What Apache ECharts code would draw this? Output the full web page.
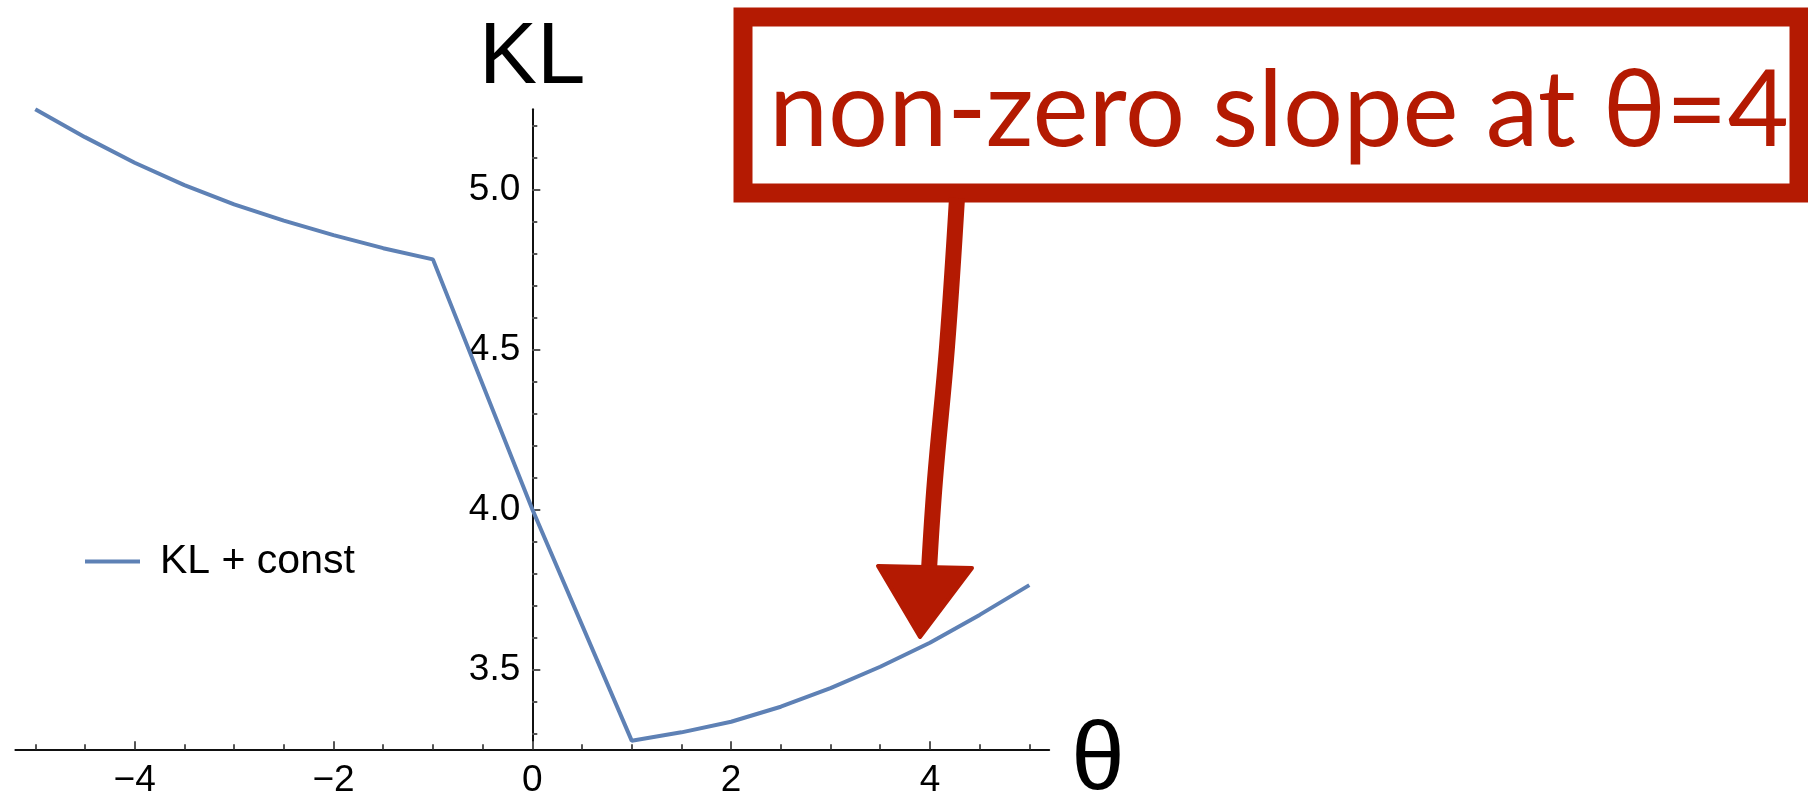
<!DOCTYPE html>
<html>
<head>
<meta charset="utf-8">
<script src="https://cdn.jsdelivr.net/npm/echarts@6/dist/echarts.min.js"></script>
<style>
  html, body { margin: 0; padding: 0; background: #fff; }
  #chart { width: 1808px; height: 803px; }
</style>
</head>
<body>
<div id="chart"></div>
<script>
// values
const thetaValues = [-5, -4.5, -4, -3.5, -3, -2.5, -2, -1.5, -1, 0, 1, 1.5, 2, 2.5, 3, 3.5, 4, 4.5, 5]
const klValues = [5.25, 5.163, 5.083, 5.013, 4.953, 4.902, 4.857, 4.816, 4.781, 4.0,
  3.277, 3.303, 3.336, 3.383, 3.441, 3.508, 3.583, 3.670, 3.763]
const seriesName = 'KL + const'

// ticks
const xMajorTicks = [-4, -2, 0, 2, 4]
const xMinorTicks = [-5, -4.5, -3.5, -3, -2.5, -1.5, -1, -0.5, 0.5, 1, 1.5, 2.5, 3, 3.5, 4.5, 5]
const yMajorTicks = [3.5, 4.0, 4.5, 5.0]
const yMinorTicks = [3.3, 3.4, 3.6, 3.7, 3.8, 3.9, 4.1, 4.2, 4.3, 4.4, 4.6, 4.7, 4.8, 4.9, 5.1, 5.2]

const noteText = 'non-zero slope at θ=4'

const axisFont = 'Liberation Sans, Arial, sans-serif'
const red = '#b41a02'
const axisColor = '#111'
const tickColor = '#555'

// plot box, theta = 0 sits at gridLeft + 5.2 units
const gridLeft = 15.4
const gridWidth = 1033.8
const yAxisShift = -(gridWidth / 10.4) * 5.2

const chart = echarts.init(document.getElementById('chart'))

const minorAxisX = {
  type: 'value', min: -5.2, max: 5.2, position: 'bottom',
  axisLine: { show: false, onZero: false },
  axisTick: { inside: true, length: 5, customValues: xMinorTicks, lineStyle: { color: tickColor, width: 2 } },
  axisLabel: { show: false },
  splitLine: { show: false }
}
const minorAxisY = {
  type: 'value', min: 3.25, max: 5.25, position: 'left', offset: yAxisShift,
  axisLine: { show: false, onZero: false },
  axisTick: { inside: true, length: 5, customValues: yMinorTicks, lineStyle: { color: tickColor, width: 2 } },
  axisLabel: { show: false },
  splitLine: { show: false }
}

const option = {
  animation: false,
  backgroundColor: '#fff',
  grid: { left: gridLeft, top: 109.3, width: gridWidth, height: 640, containLabel: false, outerBoundsMode: 'none' },
  legend: {
    data: [seriesName],
    left: 85,
    top: 541,
    padding: 0,
    icon: 'rect',
    itemWidth: 55,
    itemHeight: 4,
    textStyle: { fontFamily: axisFont, fontSize: 41, color: '#000', padding: [0, 0, 0, 15] }
  },
  xAxis: [
    {
      type: 'value', min: -5.2, max: 5.2, position: 'bottom',
      name: 'θ', nameLocation: 'end', nameGap: 22,
      nameTextStyle: { fontFamily: axisFont, fontSize: 96, color: '#000', verticalAlign: 'top', lineHeight: 26 },
      axisLine: { onZero: false, lineStyle: { color: axisColor, width: 2 } },
      axisTick: { inside: true, length: 8, customValues: xMajorTicks, lineStyle: { color: tickColor, width: 2 } },
      axisLabel: {
        customValues: xMajorTicks, margin: 13, fontFamily: axisFont, fontSize: 37, color: '#000',
        formatter: v => (v < 0 ? '\u2212' + Math.abs(v) : String(v))
      },
      splitLine: { show: false }
    },
    minorAxisX
  ],
  yAxis: [
    {
      type: 'value', min: 3.25, max: 5.25, position: 'left', offset: yAxisShift,
      name: 'KL', nameLocation: 'end', nameGap: 7,
      nameTextStyle: { fontFamily: axisFont, fontSize: 87, color: '#000' },
      axisLine: { onZero: false, lineStyle: { color: axisColor, width: 2 } },
      axisTick: { inside: true, length: 8, customValues: yMajorTicks, lineStyle: { color: tickColor, width: 2 } },
      axisLabel: {
        customValues: yMajorTicks, margin: 12, fontFamily: axisFont, fontSize: 37, color: '#000',
        formatter: v => v.toFixed(1)
      },
      splitLine: { show: false }
    },
    minorAxisY
  ],
  series: [
    {
      name: seriesName,
      type: 'line',
      xAxisIndex: 0,
      yAxisIndex: 0,
      symbol: 'none',
      color: '#5e81b5',
      lineStyle: { width: 4, color: '#5e81b5' },
      data: thetaValues.map((t, i) => [t, klValues[i]]),
      z: 3
    }
  ],
  // hand drawn note in the corner
  graphic: [
    {
      type: 'rect', z: 100,
      shape: { x: 743, y: 17, width: 1056, height: 176 },
      style: { fill: 'none', stroke: red, lineWidth: 19 }
    },
    {
      type: 'text', z: 100, x: 1279, y: 112,
      style: { text: noteText, fontFamily: 'Lato', fontSize: 106, fill: red, align: 'center', verticalAlign: 'middle' }
    },
    {
      type: 'polyline', z: 100,
      shape: { points: [[957, 198], [947, 347], [935, 480], [929, 570]], smooth: 0.4 },
      style: { stroke: red, lineWidth: 16, fill: null }
    },
    {
      type: 'polygon', z: 100,
      shape: { points: [[878, 566], [972, 568], [920, 637]] },
      style: { fill: red, stroke: red, lineWidth: 4, lineJoin: 'round' }
    }
  ]
}

chart.setOption(option)
</script>
</body>
</html>
